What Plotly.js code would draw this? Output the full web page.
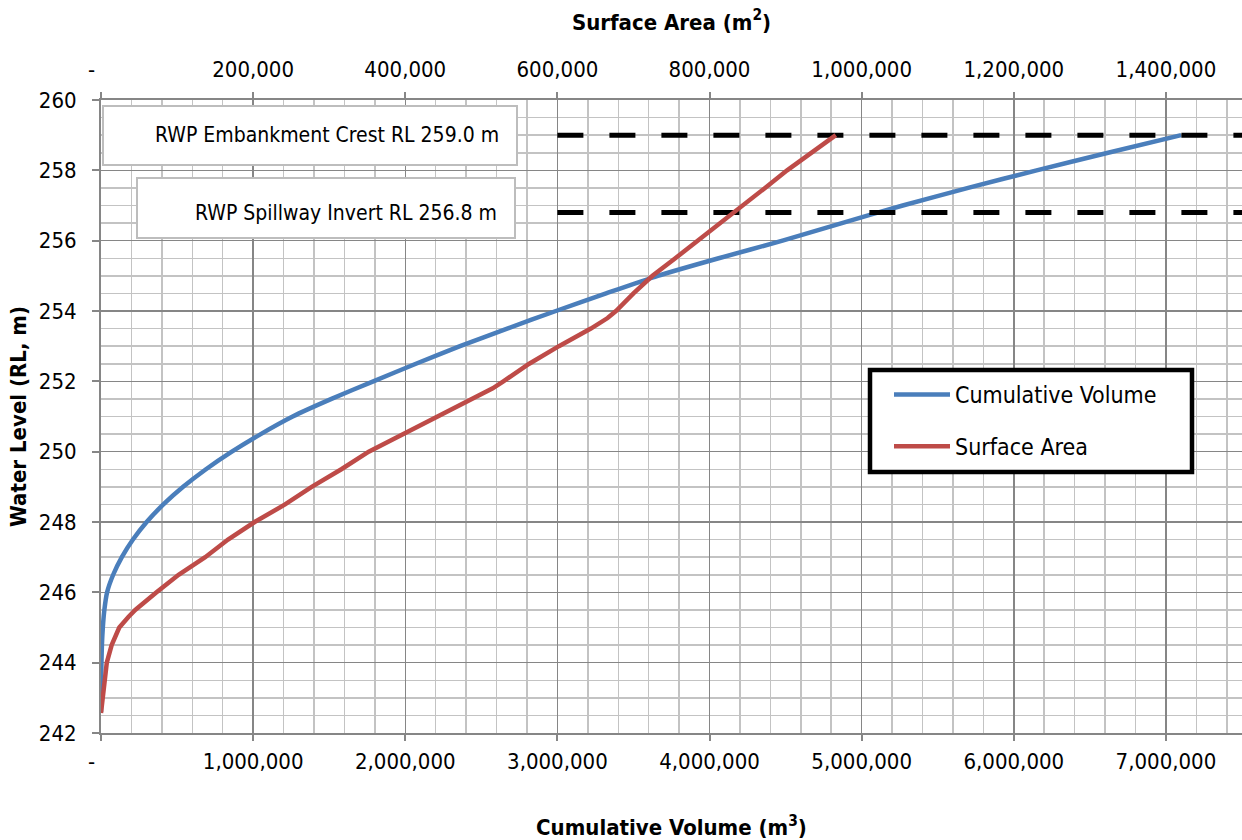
<!DOCTYPE html>
<html>
<head>
<meta charset="utf-8">
<script src="https://cdn.plot.ly/plotly-3.0.1.min.js"></script>
<style>
html,body{margin:0;padding:0;background:#ffffff;}
#chart{width:1242px;height:840px;}
</style>
</head>
<body>
<div id="chart"></div>
<script>
// ---- Data ----
const volumeLevels = [242.6, 243.0, 243.5, 244.0, 244.5, 245.0, 245.5, 246.0, 246.5, 247.0, 247.5, 248.0, 248.5, 249.0, 249.5, 250.0, 250.5, 251.0, 251.5, 252.0, 252.5, 253.0, 253.5, 254.0, 254.5, 255.0, 255.5, 256.0, 256.5, 257.0, 257.5, 258.0, 258.5, 259.0];
const cumulativeVolume = [0, 500, 1500, 3000, 6000, 12000, 22000, 40000, 80000, 137000, 210000, 300000, 410000, 540000, 690000, 860000, 1050000, 1260000, 1515000, 1790000, 2070000, 2360000, 2670000, 2990000, 3320000, 3660000, 4060000, 4480000, 4870000, 5270000, 5700000, 6150000, 6620000, 7100000];

const areaLevels = [242.57, 243.0, 243.8, 244.0, 244.5, 245.0, 245.3, 245.5, 246.0, 246.5, 247.0, 247.5, 248.0, 248.5, 249.0, 249.5, 250.0, 250.5, 251.0, 251.5, 251.8, 252.0, 252.5, 253.0, 253.5, 253.8, 254.0, 254.5, 255.0, 255.5, 256.0, 256.5, 257.0, 257.5, 258.0, 258.5, 259.0];
const surfaceArea = [0, 2000, 5400, 7600, 14000, 24000, 36000, 45000, 73000, 102000, 137000, 167000, 202000, 242000, 277000, 316000, 352000, 397000, 445000, 489000, 515000, 529000, 563000, 602000, 644000, 666000, 677000, 700000, 725000, 755000, 785000, 814000, 845000, 873000, 902000, 934000, 966000];

const crestLevel = 259.0;
const spillwayLevel = 256.8;
const referenceLineVolume = [3000000, 7500000];
const crestLabel = "RWP Embankment Crest RL 259.0 m";
const spillwayLabel = "RWP Spillway Invert RL 256.8 m";

const seriesNames = ["Cumulative Volume", "Surface Area"];
const volumeAxisTitle = "<b>Cumulative Volume (m<sup>3</sup>)</b>";
const areaAxisTitle = "<b>Surface Area (m<sup>2</sup>)</b>";
const levelAxisTitle = "<b>Water Level (RL, m)</b>";

// ---- Styling ----
const FONT = "'DejaVu Sans Condensed', 'DejaVu Sans', sans-serif";
const MAJOR = "#868686";
const MINOR = "#c3c3c3";
const BLUE = "#4a7ebb";
const RED = "#be4b48";

const W = 1242, H = 840;
const M = {l: 101, r: 0, t: 100, b: 107};
const PW = W - M.l - M.r, PH = H - M.t - M.b;
const px = x => (x - M.l) / PW;           // pixel -> paper x
const py = y => 1 - (y - M.t) / PH;       // pixel -> paper y

const traces = [
  {
    name: seriesNames[0], x: cumulativeVolume, y: volumeLevels,
    xaxis: "x", yaxis: "y", mode: "lines", legendgroup: "a",
    line: {color: BLUE, width: 4.5, shape: "spline", smoothing: 0.6},
    hoverinfo: "skip"
  },
  {
    name: "crest", x: referenceLineVolume, y: [crestLevel, crestLevel],
    xaxis: "x", yaxis: "y", mode: "lines", showlegend: false,
    line: {color: "#000000", width: 5, dash: "26px,26px"}, hoverinfo: "skip"
  },
  {
    name: "spillway", x: referenceLineVolume, y: [spillwayLevel, spillwayLevel],
    xaxis: "x", yaxis: "y", mode: "lines", showlegend: false,
    line: {color: "#000000", width: 5, dash: "26px,26px"}, hoverinfo: "skip"
  },
  {
    name: seriesNames[1], x: surfaceArea, y: areaLevels,
    xaxis: "x2", yaxis: "y", mode: "lines", legendgroup: "b",
    line: {color: RED, width: 4.5}, hoverinfo: "skip"
  }
];

const axisCommon = {
  showline: true, linecolor: MAJOR, linewidth: 2,
  ticks: "outside", ticklen: 6, tickwidth: 2, tickcolor: MAJOR,
  zeroline: false, tickfont: {size: 22, color: "#000"}
};

const layout = {
  width: W, height: H,
  margin: {l: M.l, r: M.r, t: M.t, b: M.b, pad: 0},
  paper_bgcolor: "#ffffff", plot_bgcolor: "#ffffff",
  font: {family: FONT, size: 22, color: "#000000"},
  showlegend: true,
  legend: {
    x: px(889), y: py(373), xanchor: "left", yanchor: "top",
    bgcolor: "rgba(0,0,0,0)", borderwidth: 0,
    font: {size: 23, color: "#000"}, traceorder: "grouped", tracegroupgap: 19,
    itemwidth: 56
  },
  xaxis: Object.assign({}, axisCommon, {
    range: [0, 7500000], tickmode: "linear", tick0: 0, dtick: 1000000,
    tickformat: ",d", labelalias: {"0": "-\u00a0\u00a0\u00a0"},
    showgrid: true, gridcolor: MAJOR, gridwidth: 1.5,
    minor: {tickmode: "linear", tick0: 0, dtick: 200000, showgrid: true, gridcolor: MINOR, gridwidth: 1.5, ticks: ""},
    ticklabelstandoff: 2,
    title: {text: volumeAxisTitle, font: {size: 22}, standoff: 47}
  }),
  xaxis2: Object.assign({}, axisCommon, {
    overlaying: "x", side: "top", anchor: "y",
    range: [0, 1500000], tickmode: "linear", tick0: 0, dtick: 200000,
    tickformat: ",d", labelalias: {"0": "-\u00a0\u00a0\u00a0"},
    showgrid: false, ticklabelstandoff: 6,
    title: {text: areaAxisTitle, font: {size: 22}, standoff: 21}
  }),
  yaxis: Object.assign({}, axisCommon, {
    range: [242, 260], tickmode: "linear", tick0: 242, dtick: 2,
    showgrid: true, gridcolor: MAJOR, gridwidth: 1.5,
    minor: {tickmode: "linear", tick0: 242, dtick: 0.5, showgrid: true, gridcolor: MINOR, gridwidth: 1.5, ticks: ""},
    ticklen: 7, ticklabelstandoff: 11,
    title: {text: levelAxisTitle, font: {size: 22}, standoff: 6}
  }),
  shapes: [
    {type: "rect", xref: "paper", yref: "paper", x0: px(103), x1: px(517), y0: py(106), y1: py(165),
     line: {color: "#bdbdbd", width: 2}, fillcolor: "#ffffff", layer: "above"},
    {type: "rect", xref: "paper", yref: "paper", x0: px(137), x1: px(515), y0: py(178), y1: py(238),
     line: {color: "#bdbdbd", width: 2}, fillcolor: "#ffffff", layer: "above"},
    {type: "rect", xref: "paper", yref: "paper", x0: px(870), x1: px(1192), y0: py(370), y1: py(472),
     line: {color: "#000000", width: 4.5}, fillcolor: "#ffffff", layer: "above"}
  ],
  annotations: [
    {text: crestLabel, xref: "paper", yref: "y", x: px(501), y: crestLevel, xanchor: "right", yanchor: "middle",
     showarrow: false, font: {size: 21, color: "#000"}},
    {text: spillwayLabel, xref: "paper", yref: "y", x: px(499), y: spillwayLevel, xanchor: "right", yanchor: "middle",
     showarrow: false, font: {size: 21, color: "#000"}}
  ]
};

Plotly.newPlot("chart", traces, layout, {staticPlot: true, displayModeBar: false});
</script>
</body>
</html>
